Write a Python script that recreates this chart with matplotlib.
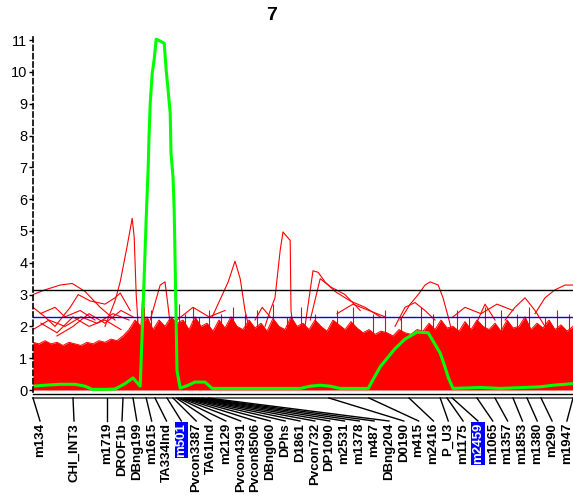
import numpy as np
import matplotlib
matplotlib.use("Agg")
from matplotlib import pyplot as plt
from matplotlib.lines import Line2D

plt.rcParams['font.family'] = ['Liberation Sans', 'DejaVu Sans']

# Posição dos marcadores (cM) e nomes
markers = ['m134', 'CHI_INT3', 'm1719', 'DROF1b', 'DBng199', 'm1615', 'TA334lnd', 'm501',
           'Pvcon3387', 'TA61lnd', 'm2129', 'Pvcon4391', 'Pvcon8506', 'DBng060', 'DPhs',
           'D1861', 'Pvcon732', 'DP1090', 'm2531', 'm1378', 'm487', 'DBng204', 'D0190',
           'm415', 'm2416', 'P_U3', 'm1175', 'm2459', 'm1065', 'm1357', 'm1853', 'm1380',
           'm290', 'm1947']
marker_cm = [0, 10, 18.5, 22.5, 25, 28.3, 30.5, 33.5,
             35, 35.8, 36.3, 36.8, 37.3, 37.8, 38.3,
             38.8, 39.3, 39.8, 40.5, 41.3, 42.3, 43.8, 74,
             84, 94, 101.8, 103.5, 104.8, 111, 115.5, 120, 123.5,
             127, 135]
highlight = ['m501', 'm2459']

# Curva LOD (verde)
lod_cm = [0, 3, 6.8, 10.5, 13, 14.8, 18, 20.5, 23, 25, 26.8, 27.5, 28.3, 28.8, 29, 29.3,
          29.8, 30.3, 30.8, 31.8, 32.8, 33.3, 33.8, 34.3, 34.5, 35, 35.3, 36, 36.8, 38.8,
          40.5, 43, 44.8, 66.8, 69.3, 71.8, 74.3, 76.8, 83.8, 86.8, 90.5, 93, 96, 98.8,
          101.8, 102.8, 103.8, 105, 111.8, 116.8, 126.8, 130, 135]
lod = [0.12, 0.15, 0.18, 0.18, 0.12, 0.02, 0.02, 0.03, 0.2, 0.38, 0.12, 2.5, 5.4, 7.0, 7.95, 9.0,
       9.95, 10.4, 11.03, 10.97, 10.9, 10.05, 9.4, 8.7, 7.45, 6.7, 5.65, 0.6, 0.06, 0.15,
       0.25, 0.25, 0.05, 0.05, 0.12, 0.15, 0.12, 0.05, 0.05, 0.73, 1.3, 1.6, 1.82, 1.8,
       1.16, 0.8, 0.4, 0.05, 0.08, 0.05, 0.1, 0.15, 0.2]

# Limiares
thr_black = 3.13
thr_blue = 2.31

# Faixa densa das permutações (topo)
perm_top = [1.5, 1.45, 1.55, 1.45, 1.5, 1.4, 1.5, 1.45, 1.4, 1.5, 1.45, 1.55, 1.5, 1.6, 1.55, 1.7, 1.9,
            2.2, 2.0, 2.3, 1.9, 2.2, 2.0, 2.3, 2.1,
            2.2, 1.9, 2.3, 2.0, 2.1, 1.85, 2.2, 1.95, 2.3, 2.0,
            1.9, 2.2, 1.95, 2.1, 1.85, 2.25, 2.0, 1.9, 2.3, 2.0,
            2.1, 1.9, 2.2, 2.0, 1.85, 2.2, 2.05, 1.9, 2.15, 1.95,
            1.8, 1.9, 1.75, 1.85, 1.8, 1.7, 1.9, 1.8, 1.75, 1.9,
            1.85, 2.1, 1.9, 2.2, 1.95, 2.0, 1.85, 2.15, 1.9, 2.2,
            2.0, 1.9, 2.1, 1.85, 2.2, 1.95, 2.0, 2.3, 1.9, 2.1,
            1.95, 2.2, 1.9, 2.05, 1.85, 2.0]

# Picos finos acima da faixa
spike_cm = [26, 27.8, 29.5, 36.5, 38, 40, 41.5, 44, 47, 50, 53, 56, 60, 63.5, 67, 70.5,
            76, 80, 85, 88, 92, 97, 100, 106, 109, 113, 117, 121, 124, 128, 131, 134]
spike_top = [2.4, 2.6, 2.5, 2.7, 2.4, 2.6, 2.3, 2.5, 2.4, 2.6, 2.4, 2.5, 2.7, 2.3, 2.6, 2.4,
             2.5, 2.6, 2.4, 2.5, 2.3, 2.6, 2.4, 2.5, 2.3, 2.6, 2.5, 2.4, 2.6, 2.3, 2.5, 2.4]

# Permutações isoladas que passam acima da faixa
perm_traces = [
    ([0, 3, 6.8, 9.8, 13, 16.8, 20.5], [3.0, 3.15, 3.3, 3.35, 3.1, 2.6, 2.2]),
    ([0, 3, 5.5, 9.3, 11.3, 14.3, 18, 20.5, 21.8, 24.3], [2.6, 2.3, 2.0, 2.6, 3.0, 2.8, 2.7, 2.9, 3.05, 2.5]),
    ([18, 20.5, 21.8, 23.5, 24.8, 25.3, 25.8, 26.3], [2.0, 2.8, 3.4, 4.5, 5.4, 4.8, 3.0, 2.0]),
    ([29.3, 31.8, 33, 33.8, 34.8], [2.2, 3.3, 3.4, 2.6, 1.5]),
    ([27, 27.5, 28], [2.0, 3.1, 2.0]),
    ([44.8, 48.8, 50.5, 51.8, 53, 54.3], [2.3, 3.4, 4.05, 3.5, 2.5, 1.8]),
    ([58, 59.3, 60.5, 61.8, 62.5, 64.3, 64.5, 65], [2.0, 2.5, 2.9, 4.4, 4.97, 4.7, 2.5, 2.0]),
    ([68, 70, 71.3, 73, 75.5, 79.3, 83, 86.8], [2.0, 3.75, 3.7, 3.4, 3.1, 2.8, 2.6, 2.3]),
    ([69.3, 71.8, 74.3, 78, 81.8], [2.2, 3.5, 3.25, 3.0, 2.5]),
    ([91.8, 94.3, 96.3, 98, 99.3, 101.3, 102.5, 103.8, 104.8], [2.2, 2.7, 3.0, 3.3, 3.4, 3.3, 2.9, 2.3, 1.8]),
    ([90.5, 93, 95.5, 98, 100.5], [2.0, 2.6, 2.75, 2.5, 2.2]),
    ([125.5, 128, 130.5, 133, 135], [2.4, 2.9, 3.15, 3.3, 3.3]),
    ([118, 120.5, 123, 125.5, 128], [2.2, 2.6, 2.9, 2.5, 2.0]),
    ([110.5, 113, 115.5], [2.0, 2.7, 2.2]),
    ([1.8, 5.5, 8, 11.8, 15.5], [2.4, 2.6, 2.3, 2.5, 2.2]),
    ([55.5, 57.3, 59.3], [2.2, 2.6, 2.3]),
    ([0, 4, 8, 12, 16, 20, 24], [1.9, 2.2, 2.0, 2.3, 2.1, 2.4, 2.2]),
    ([2, 6, 10, 14, 18, 22], [2.1, 1.8, 2.3, 2.0, 2.2, 1.9]),
    ([6, 10, 14, 18, 22, 25], [1.7, 2.0, 2.4, 2.1, 2.5, 2.3]),
    ([36, 40, 44, 48], [2.2, 2.6, 2.3, 2.5]),
    ([76, 80, 84, 88], [2.4, 2.7, 2.5, 2.3]),
    ([105, 108, 112, 116, 120], [2.3, 2.6, 2.4, 2.7, 2.5]),
]

W, H = 573, 495
fig = plt.figure(figsize=(W / 100, H / 100), dpi=100)
ax = fig.add_axes([33 / W, 1 - 391.6 / H, 1 - 33 / W, (391.6 - 33.8) / H])
ax.set_xlim(0, 135)
ax.set_ylim(-0.05, 11.2)

perm_x = np.linspace(0, 135, len(perm_top))
ax.fill_between(perm_x, 0, perm_top, color='#ff0000', lw=0)
ax.plot(perm_x, perm_top, color='#ff0000', lw=0.7)
ax.vlines(spike_cm, 1.5, spike_top, color='#ff0000', lw=0.8)
for tx, ty in perm_traces:
    ax.plot(tx, ty, color='#ff0000', lw=0.8)

ax.axhline(thr_black, color='black', lw=1)
ax.axhline(thr_blue, color='#0000ff', lw=1)
ax.plot(lod_cm, lod, color='#00ff00', lw=2.2)

for s in ['top', 'right', 'bottom']:
    ax.spines[s].set_visible(False)
ax.spines['left'].set_linestyle((0, (3, 2)))
ax.spines['left'].set_linewidth(1.2)
ax.set_xticks([])
ax.set_yticks(range(0, 12))
ax.tick_params(axis='y', length=3, width=1, labelsize=10.5, pad=1)

fig.text(272 / W, 1 - 16 / H, '7', ha='center', va='center', fontsize=14, fontweight='bold')

# Barra do cromossomo
for py, c, lw in [(393.5, 'black', 1.0), (397.5, '#555555', 1.3)]:
    fig.add_artist(Line2D([33 / W, 1], [1 - py / H] * 2, color=c, lw=lw))

# Posição dos rótulos (px)
label_px = [40, 74, 107] + [122 + i * 14.83 for i in range(len(markers) - 3)]

for name, m, lx in zip(markers, marker_cm, label_px):
    mx = ax.transData.transform((m, 0))[0] / W
    fig.add_artist(Line2D([mx, lx / W], [1 - 398 / H, 1 - 421 / H], color='black', lw=1))
    kw = {}
    col = 'black'
    if name in highlight:
        kw['bbox'] = dict(facecolor='#0000ff', edgecolor='none', pad=0.6)
        col = 'white'
    fig.text(lx / W, 1 - 423 / H, name, rotation=90, ha='center', va='top',
             fontsize=9.5, fontweight='bold', color=col, **kw)

plt.savefig('out.png', dpi=100)
